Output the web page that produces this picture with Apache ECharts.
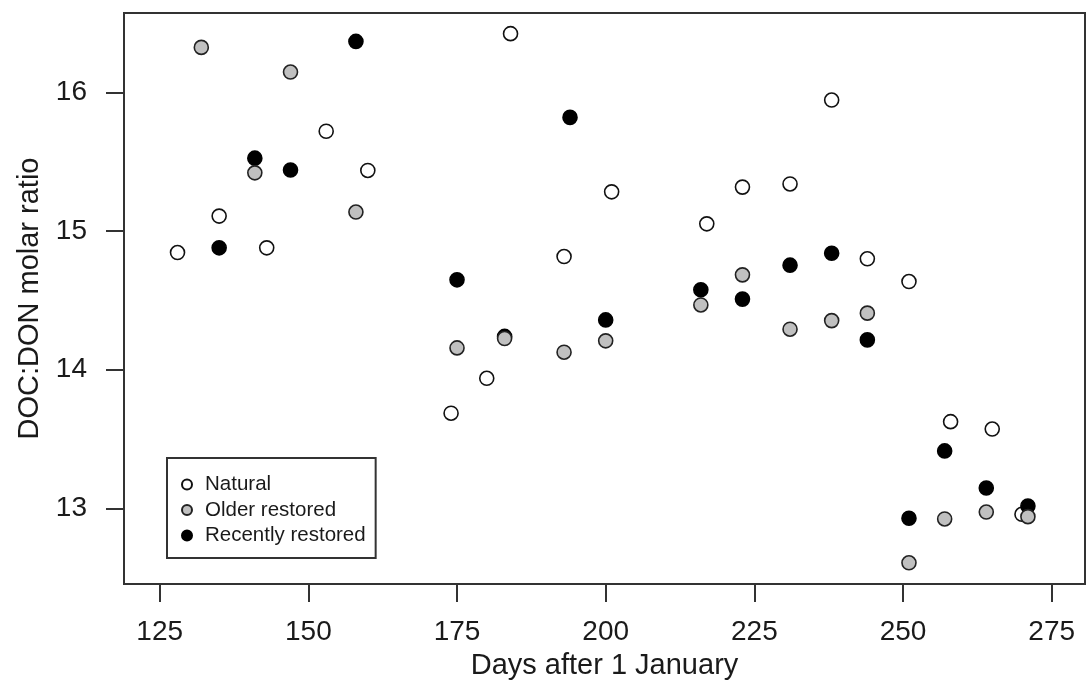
<!DOCTYPE html>
<html>
<head>
<meta charset="utf-8">
<script src="https://cdn.jsdelivr.net/npm/echarts@6/dist/echarts.min.js"></script>
<style>html,body{margin:0;padding:0;background:#fff;}#chart{width:1086px;height:689px;}</style>
</head>
<body>
<div id="chart"></div>
<script>
const naturalDays = [128, 135, 143, 153, 160, 174, 180, 184, 193, 201, 217, 223, 231, 238, 244, 251, 258, 265, 270];
const naturalRatio = [14.845, 15.108, 14.879, 15.72, 15.437, 13.686, 13.938, 16.424, 14.816, 15.283, 15.052, 15.317, 15.34, 15.945, 14.80, 14.636, 13.625, 13.572, 12.957];
const olderDays = [132, 141, 147, 158, 175, 183, 193, 200, 216, 223, 231, 238, 244, 251, 257, 264, 271];
const olderRatio = [16.325, 15.42, 16.147, 15.137, 14.157, 14.225, 14.126, 14.208, 14.467, 14.684, 14.292, 14.354, 14.408, 12.607, 12.923, 12.973, 12.94];
const recentDays = [135, 141, 147, 158, 175, 183, 194, 200, 216, 223, 231, 238, 244, 251, 257, 264, 271];
const recentRatio = [14.879, 15.526, 15.44, 16.368, 14.648, 14.24, 15.82, 14.359, 14.576, 14.509, 14.754, 14.84, 14.215, 12.928, 13.414, 13.147, 13.017];
const xTicks = [125, 150, 175, 200, 225, 250, 275];
const yTicks = [13, 14, 15, 16];
const seriesNames = ['Natural', 'Older restored', 'Recently restored'];

const pairs = (xs, ys) => xs.map((x, i) => [x, ys[i]]);
const font = 'Liberation Sans, Arial, Helvetica, sans-serif';
const chart = echarts.init(document.getElementById('chart'), null, {renderer: 'canvas'});
chart.setOption({
  animation: false,
  backgroundColor: '#ffffff',
  grid: {left: 124, right: 1, top: 13, bottom: 105, show: true, borderColor: '#333', borderWidth: 2, backgroundColor: 'transparent'},
  legend: {
    orient: 'vertical', left: 167, top: 458,
    data: seriesNames,
    borderColor: '#333', borderWidth: 2, padding: [16, 10, 12, 14],
    itemGap: 4.5, itemWidth: 26, itemHeight: 10,
    textStyle: {fontFamily: font, fontSize: 20.5, color: '#1a1a1a'},
    selectedMode: false
  },
  xAxis: {
    type: 'value', min: 119, max: 280.6,
    name: 'Days after 1 January', nameLocation: 'middle', nameGap: 67,
    nameTextStyle: {fontFamily: font, fontSize: 29, color: '#1a1a1a'},
    axisLine: {show: true, lineStyle: {color: '#333', width: 2}},
    axisTick: {show: true, inside: false, length: 18, customValues: xTicks, lineStyle: {color: '#333', width: 2}},
    axisLabel: {margin: 34, fontFamily: font, fontSize: 28, color: '#1a1a1a', customValues: xTicks},
    splitLine: {show: false}
  },
  yAxis: {
    type: 'value', min: 12.454, max: 16.573,
    name: 'DOC:DON molar ratio', nameLocation: 'middle', nameGap: 75,
    nameTextStyle: {fontFamily: font, fontSize: 29, color: '#1a1a1a'},
    axisLine: {show: true, lineStyle: {color: '#333', width: 2}},
    axisTick: {show: true, inside: false, length: 18, customValues: yTicks, lineStyle: {color: '#333', width: 2}},
    axisLabel: {margin: 37, fontFamily: font, fontSize: 28, color: '#1a1a1a', customValues: yTicks},
    splitLine: {show: false}
  },
  series: [
    {name: seriesNames[0], type: 'scatter', z: 2, symbol: 'circle', symbolSize: 14,
     itemStyle: {color: '#ffffff', borderColor: '#111', borderWidth: 1.6, opacity: 1},
     data: pairs(naturalDays, naturalRatio)},
    {name: seriesNames[1], type: 'scatter', z: 4, symbol: 'circle', symbolSize: 14,
     itemStyle: {color: '#c0c0c0', borderColor: '#222', borderWidth: 1.6, opacity: 1},
     data: pairs(olderDays, olderRatio)},
    {name: seriesNames[2], type: 'scatter', z: 3, symbol: 'circle', symbolSize: 14,
     itemStyle: {color: '#000000', borderColor: '#000', borderWidth: 1.6, opacity: 1},
     data: pairs(recentDays, recentRatio)}
  ]
});
</script>
</body>
</html>
